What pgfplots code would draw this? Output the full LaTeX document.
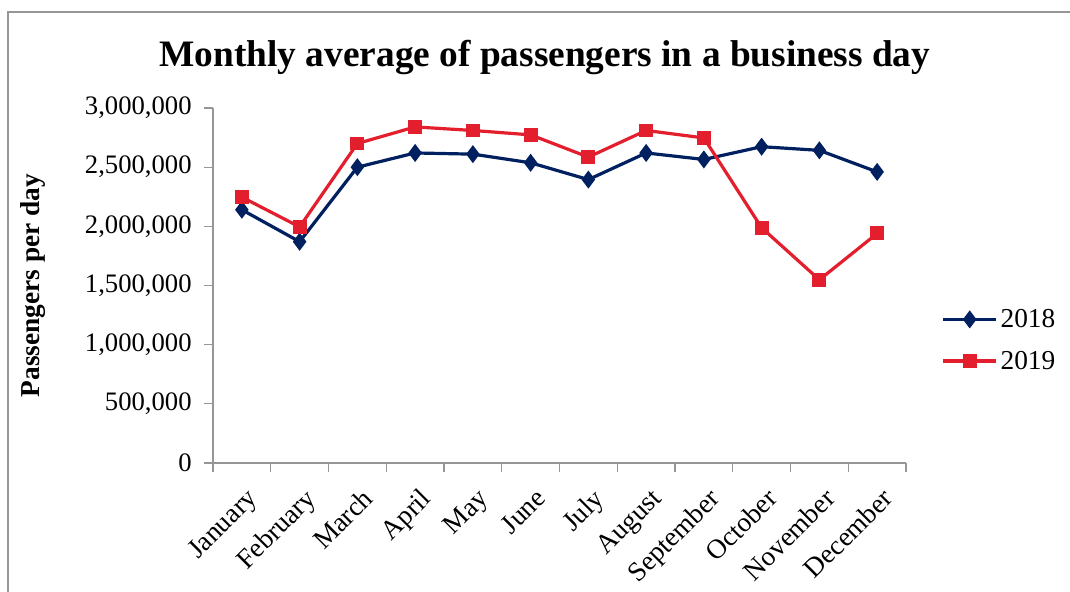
\documentclass[border=0pt]{standalone}
\usepackage{pgfplots}
\pgfplotsset{compat=1.18}
\usepackage{fontspec}
\setmainfont{Liberation Serif}
\definecolor{navy}{RGB}{0,32,96}
\definecolor{cred}{RGB}{227,30,45}
\definecolor{axgray}{RGB}{150,150,150}
\begin{document}
\begin{tikzpicture}
\path[use as bounding box] (0,0) rectangle (802.5pt,444pt);
\draw[axgray, line width=0.8pt] (6pt,0pt) -- (6pt,435pt) -- (802.5pt,435pt);
\node[font=\fontsize{28}{32}\selectfont\bfseries] at (408.75pt,401.25pt) {Monthly average of passengers in a business day};
\begin{axis}[
  scale only axis,
  width=519.75pt, height=266.25pt,
  at={(159.75pt,96.75pt)}, anchor=south west,
  xmin=0.5, xmax=12.5, ymin=0, ymax=3000000,
  axis x line*=bottom, axis y line*=left,
  axis line style={axgray, line width=0.8pt},
  every tick/.style={axgray, line width=0.8pt},
  tick align=outside, major tick length=6.5pt,
  xtick={0.5,1.5,...,12.5},
  x tick label as interval,
  xticklabels={January,February,March,April,May,June,July,August,September,October,November,December},
  xticklabel style={rotate=45, anchor=north east, font=\fontsize{20.5}{24}\selectfont, inner sep=1pt, yshift=-9pt, xshift=-5pt},
  ytick={0,500000,1000000,1500000,2000000,2500000,3000000},
  scaled y ticks=false,
  yticklabel style={font=\fontsize{20}{24}\selectfont, xshift=-6pt},
  /pgf/number format/.cd, fixed, 1000 sep={,}, assume math mode=true,
  /pgfplots/.cd,
  ylabel={\textbf{Passengers per day}},
  ylabel style={font=\fontsize{20.5}{24}\selectfont, at={(axis description cs:-0.259,0.5)}, anchor=center},
  legend style={at={(1.045,0.346)}, anchor=west, draw=none, fill=none, font=\fontsize{20.5}{24}\selectfont, row sep=12pt},
  legend cell align=left,
  legend image code/.code={\draw[#1, mark=none] (0pt,0pt) -- (40pt,0pt); \draw[#1, only marks] plot coordinates {(20pt,0pt)};},
]
\addplot[navy, line width=2.4pt, mark=diamond*, mark size=4.8pt, mark options={solid}] coordinates {
(1,2140000) (2,1870000) (3,2500000) (4,2620000) (5,2610000) (6,2537000)
(7,2395000) (8,2620000) (9,2565000) (10,2673000) (11,2642000) (12,2460000)};
\addlegendentry{2018}
\addplot[cred, line width=2.4pt, mark=square*, mark size=4pt, mark options={solid}] coordinates {
(1,2247000) (2,1995000) (3,2700000) (4,2840000) (5,2810000) (6,2773000)
(7,2585000) (8,2810000) (9,2747000) (10,1988000) (11,1548000) (12,1940000)};
\addlegendentry{2019}
\end{axis}
\end{tikzpicture}
\end{document}
